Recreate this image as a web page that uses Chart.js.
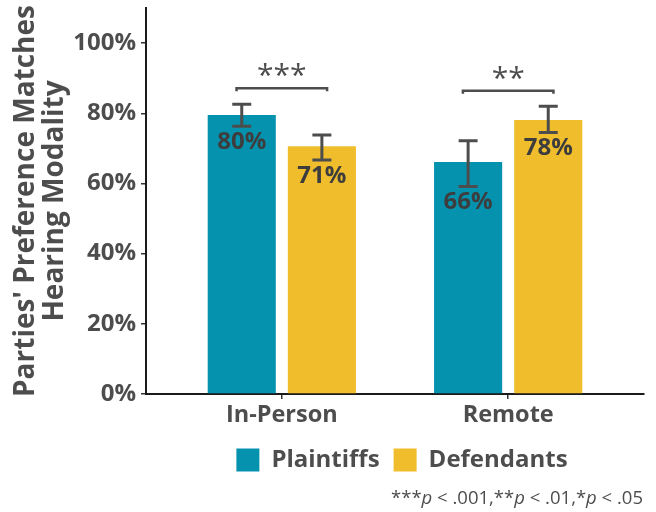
<!DOCTYPE html>
<html>
<head>
<meta charset="utf-8">
<script src="https://cdn.jsdelivr.net/npm/chart.js@4.4.1/dist/chart.umd.min.js"></script>
<style>
  html, body { margin: 0; padding: 0; background: #ffffff; }
  #wrap { width: 656px; height: 512px; }
</style>
</head>
<body>
<div id="wrap"><canvas id="chart" width="656" height="512"></canvas></div>
<script>
// Hearing modality preference by party
const categories = ['In-Person', 'Remote'];
const seriesNames = ['Plaintiffs', 'Defendants'];
const plaintiffs = [79.5, 66.1];
const defendants = [70.6, 78.1];
const plaintiffsLow = [76.3, 59.1];
const plaintiffsHigh = [82.6, 72.2];
const defendantsLow = [66.7, 74.5];
const defendantsHigh = [73.8, 82.0];
const sigStars = ['***', '**'];
const sigLevel = [87.1, 86.4];
const yTicks = [0, 20, 40, 60, 80, 100];
const yTitle = ["Parties' Preference Matches", 'Hearing Modality'];
const noteParts = [['***', false], ['p', true], [' < .001,**', false], ['p', true], [' < .01,*', false], ['p', true], [' < .05', false]];

const TEAL = '#0592ae';
const GOLD = '#f0bd2d';
const INK = '#4d4d4d';
const FONT = '"Open Sans", "DejaVu Sans", sans-serif';

const toPoints = (vals) => vals.map((v, i) => ({ x: i + 1, y: v }));

const annotate = {
  id: 'annotate',
  afterLayout(chart) {
    // nudge the legend row a little to the right of the panel centre
    if (chart.legend) { chart.legend.left += 7; chart.legend.right += 7; }
  },
  afterDatasetsDraw(chart) {
    const { ctx, scales: { x, y } } = chart;
    const lows = [plaintiffsLow, defendantsLow];
    const highs = [plaintiffsHigh, defendantsHigh];
    ctx.save();
    // error bars and value labels
    chart.data.datasets.forEach((ds, d) => {
      chart.getDatasetMeta(d).data.forEach((bar, i) => {
        const yl = y.getPixelForValue(lows[d][i]);
        const yh = y.getPixelForValue(highs[d][i]);
        ctx.strokeStyle = INK;
        ctx.lineWidth = 3;
        ctx.beginPath();
        ctx.moveTo(bar.x, yl); ctx.lineTo(bar.x, yh);
        ctx.moveTo(bar.x - 9.5, yl); ctx.lineTo(bar.x + 9.5, yl);
        ctx.moveTo(bar.x - 9.5, yh); ctx.lineTo(bar.x + 9.5, yh);
        ctx.stroke();
        ctx.fillStyle = '#3d3d3d';
        ctx.font = 'bold 24px ' + FONT;
        ctx.textAlign = 'center';
        ctx.textBaseline = 'middle';
        ctx.fillText(Math.round(ds.data[i].y) + '%', bar.x, yl + 16);
      });
    });
    // significance brackets
    categories.forEach((c, i) => {
      const x0 = x.getPixelForValue(i + 1 - 0.2);
      const x1 = x.getPixelForValue(i + 1 + 0.2);
      const yb = y.getPixelForValue(sigLevel[i]);
      ctx.strokeStyle = INK;
      ctx.lineWidth = 2.5;
      ctx.beginPath();
      ctx.moveTo(x0, yb + 3); ctx.lineTo(x0, yb); ctx.lineTo(x1, yb); ctx.lineTo(x1, yb + 3);
      ctx.stroke();
      ctx.fillStyle = INK;
      ctx.font = '30px ' + FONT;
      ctx.textAlign = 'center';
      ctx.textBaseline = 'alphabetic';
      ctx.fillText(sigStars[i], (x0 + x1) / 2, yb - 3);
    });
    ctx.restore();
  },
  afterDraw(chart) {
    // significance note, right-aligned at the bottom
    const { ctx } = chart;
    ctx.save();
    ctx.fillStyle = INK;
    ctx.textBaseline = 'alphabetic';
    ctx.textAlign = 'left';
    const fontFor = (it) => (it ? 'italic ' : '') + '18.5px ' + FONT;
    let total = 0;
    noteParts.forEach(([t, it]) => { ctx.font = fontFor(it); total += ctx.measureText(t).width; });
    let cx = 643 - total;
    noteParts.forEach(([t, it]) => {
      ctx.font = fontFor(it);
      ctx.fillText(t, cx, 504);
      cx += ctx.measureText(t).width;
    });
    ctx.restore();
  }
};

new Chart(document.getElementById('chart'), {
  type: 'bar',
  data: {
    datasets: [
      { label: seriesNames[0], data: toPoints(plaintiffs), backgroundColor: TEAL },
      { label: seriesNames[1], data: toPoints(defendants), backgroundColor: GOLD }
    ]
  },
  options: {
    responsive: false,
    animation: false,
    devicePixelRatio: 1,
    categoryPercentage: 0.708,
    barPercentage: 0.85,
    layout: { padding: { left: 0, right: 12, top: 8, bottom: 30 } },
    plugins: {
      legend: {
        position: 'bottom',
        fullSize: false,
        labels: {
          boxWidth: 23,
          boxHeight: 23,
          padding: 14,
          color: INK,
          font: { family: FONT, size: 24, weight: 'bold' }
        }
      },
      tooltip: { enabled: false }
    },
    scales: {
      x: {
        type: 'linear',
        offset: false,
        min: 0.4,
        max: 2.6,
        afterBuildTicks: (s) => { s.ticks = categories.map((c, i) => ({ value: i + 1 })); },
        afterFit: (s) => { s.height = 40; s.paddingLeft = 0; s.paddingRight = 0; },
        grid: { offset: false, drawOnChartArea: false, drawTicks: true, tickLength: 5, color: '#333333', lineWidth: 1.5 },
        border: { display: true, color: '#1a1a1a', width: 2 },
        ticks: {
          color: INK,
          padding: 2,
          maxRotation: 0,
          font: { family: FONT, size: 23.5, weight: 'bold' },
          callback: (v) => categories[Math.round(v) - 1]
        }
      },
      y: {
        min: 0,
        max: 110,
        afterBuildTicks: (s) => { s.ticks = yTicks.map((v) => ({ value: v })); },
        afterFit: (s) => { s.width = 146; s.paddingTop = 0; s.paddingBottom = 0; },
        grid: { drawOnChartArea: false, drawTicks: true, tickLength: 5, color: '#333333', lineWidth: 1.5 },
        border: { display: true, color: '#1a1a1a', width: 2 },
        ticks: {
          color: INK,
          padding: 5,
          font: { family: FONT, size: 24, weight: 'bold' },
          callback: (v) => v + '%'
        },
        title: {
          display: true,
          text: yTitle,
          color: INK,
          padding: { top: 12, bottom: 0 },
          font: { family: FONT, size: 28, weight: 'bold', lineHeight: '29px' }
        }
      }
    }
  },
  plugins: [annotate]
});
</script>
</body>
</html>
